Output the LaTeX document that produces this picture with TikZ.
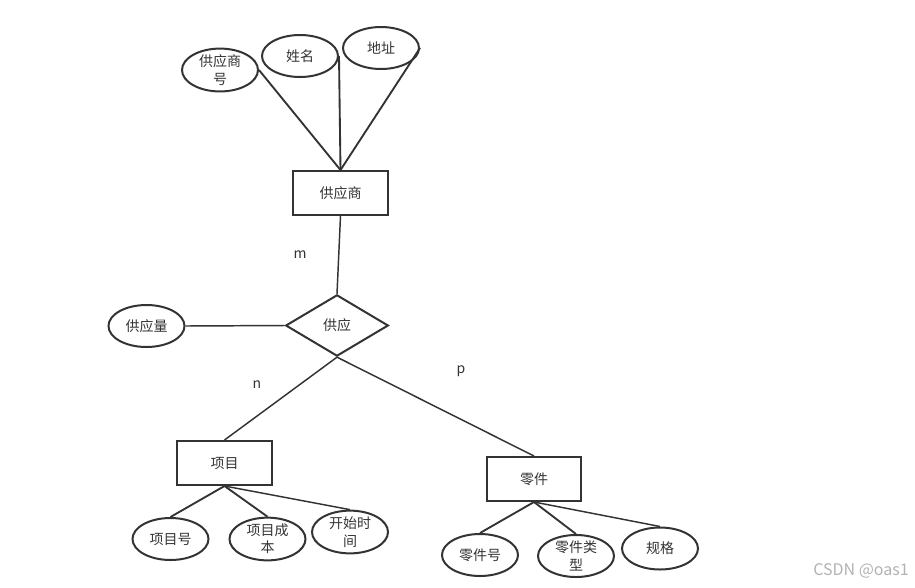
\documentclass[tikz,border=0pt]{standalone}
\usepackage{fontspec}
\setmainfont{Noto Sans CJK SC}
\usetikzlibrary{shapes.geometric}
\definecolor{ink}{HTML}{333333}
\tikzset{
  attr/.style={ellipse,draw=ink,line width=1.5pt,minimum width=57pt,minimum height=31.5pt,inner sep=0pt,align=center,font=\fontsize{10.5}{13}\selectfont,text=ink},
  ent/.style={rectangle,draw=ink,line width=1.5pt,minimum width=71pt,minimum height=33pt,inner sep=0pt,font=\fontsize{10.5}{12}\selectfont,text=ink},
  rel/.style={diamond,draw=ink,line width=1.5pt,minimum width=77pt,minimum height=46pt,aspect=1.69,inner sep=0pt,font=\fontsize{10.5}{12}\selectfont,text=ink},
  conn/.style={draw=ink,line width=1.1pt},
  lab/.style={font=\fontsize{10.5}{12}\selectfont,text=ink}
}
\begin{document}
\begin{tikzpicture}[x=0.75pt,y=-0.75pt]
\useasboundingbox (0,0) rectangle (915,587);
% supplier
\node[ent] (sup) at (340.5,193) {供应商};
\node[attr] (sno) at (220,70) {供应商\\号};
\node[attr] (sname) at (300,56) {姓名};
\node[attr] (saddr) at (381,48) {地址};
\draw[conn,line width=1.4pt] (sup.north) -- (sno.east);
\draw[conn,line width=1.4pt] (sup.north) -- (sname.east);
\draw[conn,line width=1.4pt] (sup.north) -- (saddr.east);
% relationship
\node[rel] (gy) at (337,325.5) {供应};
\node[attr] (qty) at (146.5,326) {供应量};
\draw[conn] (sup.south) -- (gy.north);
\draw[conn] (qty.east) -- (gy.west);
\node[lab] (m) at (300,255) {m};
\node[lab] (n) at (257,385) {n};
\node[lab] (p) at (461,371) {p};
% project
\node[ent] (proj) at (224.5,463) {项目};
\node[attr] (pno) at (170.5,539) {项目号};
\node[attr] (pcost) at (267.5,539) {项目成\\本};
\node[attr] (pstart) at (350,532) {开始时\\间};
\draw[conn] (gy.south) -- (proj.north);
\draw[conn,line width=1.4pt] (proj.south) -- (pno.north);
\draw[conn,line width=1.4pt] (proj.south) -- (pcost.north);
\draw[conn] (proj.south) -- (pstart.north);
% part
\node[ent] (part) at (534,479) {零件};
\node[attr] (ptno) at (480,555) {零件号};
\node[attr] (pttype) at (576,556) {零件类\\型};
\node[attr] (ptspec) at (660,548.5) {规格};
\draw[conn] (gy.south) -- (part.north);
\draw[conn,line width=1.4pt] (part.south) -- (ptno.north);
\draw[conn,line width=1.4pt] (part.south) -- (pttype.north);
\draw[conn] (part.south) -- (ptspec.north);
% watermark
\node[font=\fontsize{12}{14}\selectfont,text=black!30] (wm) at (861,571) {CSDN @oas1};
\end{tikzpicture}
\end{document}
